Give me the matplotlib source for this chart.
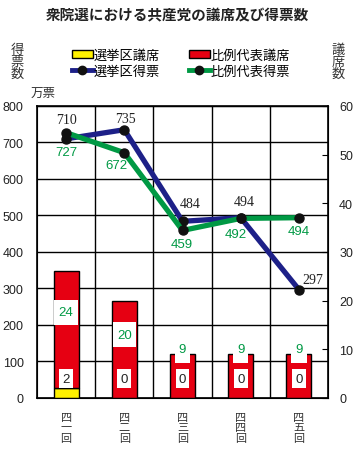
import matplotlib
matplotlib.use("Agg")
import matplotlib.pyplot as plt
from matplotlib.patches import Patch
from matplotlib.lines import Line2D

plt.rcParams['font.family'] = ['Noto Sans CJK JP', 'DejaVu Sans']

# data
sessions = ["四\n一\n回", "四\n二\n回", "四\n三\n回", "四\n四\n回", "四\n五\n回"]
district_votes = [710, 735, 484, 494, 297]      # 選挙区得票 (万票)
pr_votes = [727, 672, 459, 492, 494]            # 比例代表得票 (万票)
district_seats = [2, 0, 0, 0, 0]                # 選挙区議席
pr_seats = [24, 20, 9, 9, 9]                    # 比例代表議席

# label offsets in pixels (dx, dy)
district_off = [(0, 19), (1, 11), (8, 18), (4, 16), (14, 10)]
pr_off = [(0, -19), (-8, -12), (-1, -14), (-5, -16), (0, -13)]

YELLOW = "#fff100"
RED = "#e60012"
BLUE = "#1d2088"
GREEN = "#009944"
NUM = "Liberation Sans"

fig = plt.figure(figsize=(3.55, 4.52), dpi=100)
ax = fig.add_axes([0.1042, 0.1173, 0.8198, 0.646])
x = list(range(len(sessions)))

# left axis: votes, grid
ax.set_xlim(-0.5, 4.5)
ax.set_ylim(0, 800)
ax.set_yticks(range(0, 801, 100))
ax.set_xticks(x)
ax.set_xticklabels(sessions, fontsize=8, linespacing=1.05, color="#333333")
ax.set_xticks([i + 0.5 for i in x[:-1]], minor=True)
ax.grid(True, which="minor", axis="x", color="black", lw=1)
ax.grid(True, which="major", axis="y", color="black", lw=1)
ax.tick_params(axis="x", which="both", length=0, pad=10)
ax.tick_params(axis="y", length=0, pad=9.5, labelsize=9)
for t in ax.get_yticklabels():
    t.set_fontfamily(NUM)
    t.set_color("#222222")
for s in ax.spines.values():
    s.set_linewidth(1.2)

# right axis: seats, bars
ax2 = ax.twinx()
ax2.set_ylim(0, 60)
ax2.set_yticks(range(0, 61, 10))
ax2.tick_params(axis="y", direction="in", length=4, pad=8, labelsize=9)
for t in ax2.get_yticklabels():
    t.set_fontfamily(NUM)
    t.set_color("#222222")
w = 0.43
ax2.bar(x, district_seats, w, color=YELLOW, edgecolor="black", lw=1)
ax2.bar(x, pr_seats, w, bottom=district_seats, color=RED, edgecolor="black", lw=1)

for i in x:
    top = district_seats[i] + pr_seats[i]
    if pr_seats[i] > 10:
        mid = district_seats[i] + 0.65 * pr_seats[i]
        ax2.bar(i, 5.2, w - 0.03, bottom=mid - 2.6, color="white", lw=0)
        ax2.text(i, mid, str(pr_seats[i]), ha="center", va="center",
                 fontsize=9.5, color=GREEN, family=NUM)
    else:
        ax2.bar(i, 2.0, w * 0.62, bottom=top - 1.8, color="white", lw=0)
        ax2.text(i, top + 1.0, str(pr_seats[i]), ha="center", va="center",
                 fontsize=9.5, color=GREEN, family=NUM)
    ax2.text(i, 4.0, str(district_seats[i]), ha="center", va="center",
             fontsize=9.5, color="#222222", family=NUM,
             bbox=dict(boxstyle="square,pad=0.25", fc="white", ec="none"))

# top layer: vote lines
ax3 = ax.twinx()
ax3.set_ylim(0, 800)
ax3.axis("off")
ax3.plot(x, district_votes, color=BLUE, lw=3.8, marker="o", ms=6.5,
         mfc="#111111", mec="#111111", solid_capstyle="butt")
ax3.plot(x, pr_votes, color=GREEN, lw=3.8, marker="o", ms=6.5,
         mfc="#111111", mec="#111111", solid_capstyle="butt")
for i in x:
    ax3.annotate(str(district_votes[i]), (i, district_votes[i]),
                 xytext=district_off[i], textcoords="offset pixels",
                 ha="center", va="center", fontsize=10,
                 family="Liberation Serif", color="#222222")
    ax3.annotate(str(pr_votes[i]), (i, pr_votes[i]),
                 xytext=pr_off[i], textcoords="offset pixels",
                 ha="center", va="center", fontsize=9.5,
                 family=NUM, color=GREEN)

# titles and axis captions
fig.text(0.5, 0.966, "衆院選における共産党の議席及び得票数", ha="center", va="center",
         fontsize=10.5, fontweight="bold", color="#222222")
fig.text(0.048, 0.862, "得\n票\n数", ha="center", va="center", fontsize=9.5,
         linespacing=0.9, color="#333333")
fig.text(0.952, 0.862, "議\n席\n数", ha="center", va="center", fontsize=9.5,
         linespacing=0.9, color="#333333")
fig.text(0.085, 0.794, "万票", ha="left", va="center", fontsize=9, color="#333333")

handles = [
    Patch(fc=YELLOW, ec="black", lw=1),
    Line2D([], [], color=BLUE, lw=3.5, marker="o", ms=6, mfc="#111111", mec="#111111"),
    Patch(fc=RED, ec="black", lw=1),
    Line2D([], [], color=GREEN, lw=3.5, marker="o", ms=6, mfc="#111111", mec="#111111"),
]
labels = ["選挙区議席", "選挙区得票", "比例代表議席", "比例代表得票"]
fig.legend(handles, labels, ncol=2, loc="center", bbox_to_anchor=(0.51, 0.858),
           frameon=False, fontsize=9.5, handlelength=1.6, handleheight=0.6,
           handletextpad=0.05, columnspacing=2.2, labelspacing=0.25,
           borderpad=0)

fig.savefig("out.png", dpi=100)
